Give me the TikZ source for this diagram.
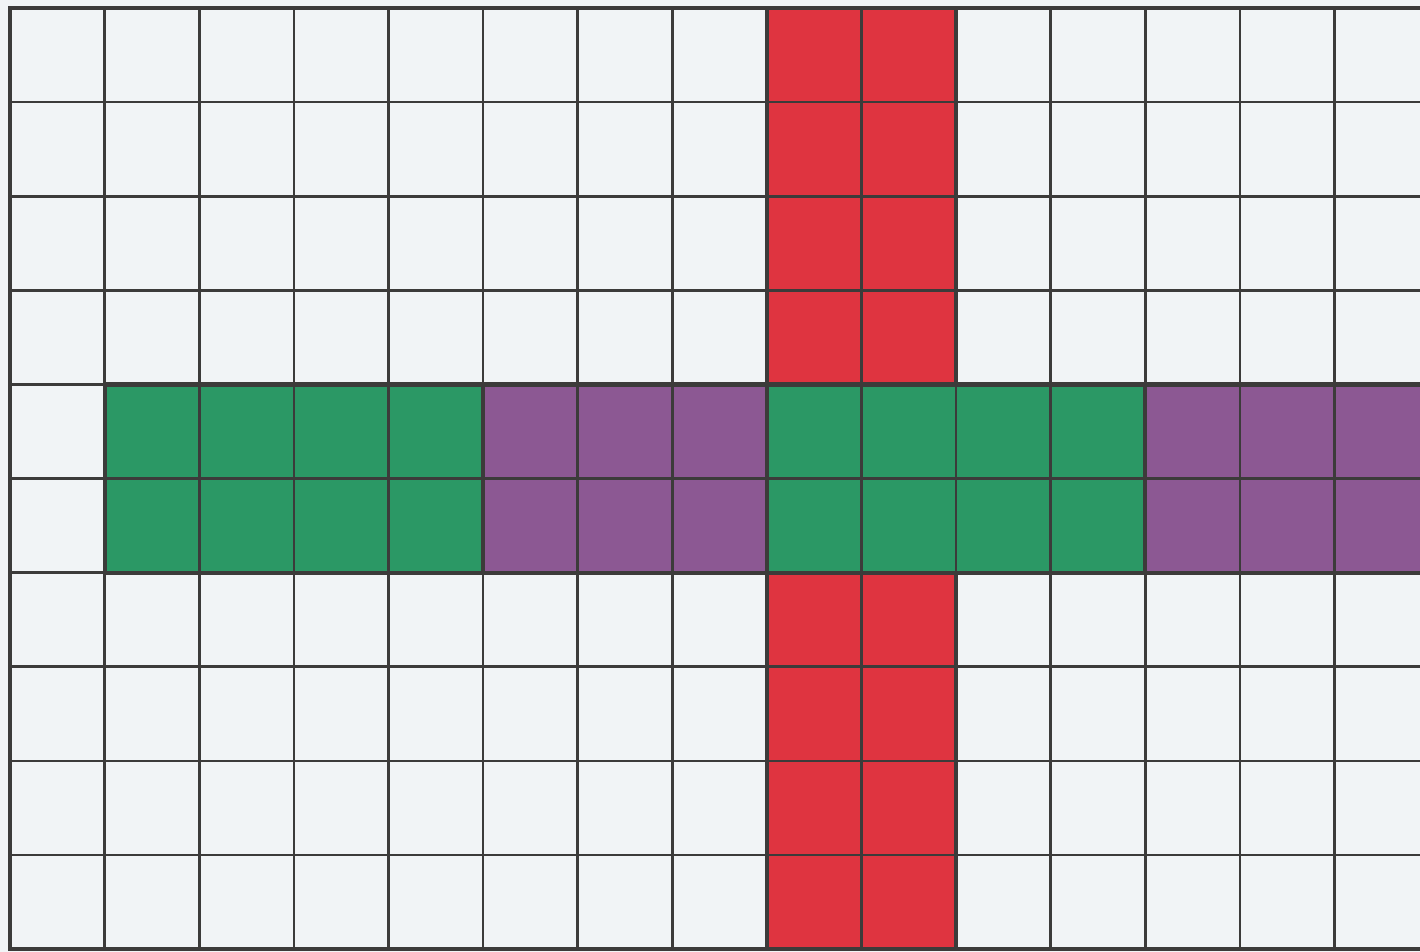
\documentclass[tikz,border=0pt]{standalone}
\usepackage{xcolor}
\definecolor{paper}{HTML}{F1F4F6}
\definecolor{gridline}{HTML}{3C3B3A}
\definecolor{redcell}{HTML}{DF3440}
\definecolor{greencell}{HTML}{2B9865}
\definecolor{purplecell}{HTML}{8C5893}
\tikzset{
  gridrule/.style={draw=gridline,line width=2.6pt},
  blockrule/.style={draw=gridline,line width=4.2pt},
  redblock/.style={fill=redcell},
  greenblock/.style={fill=greencell},
  purpleblock/.style={fill=purplecell}
}
\newcommand{\cw}{94.6}
\newcommand{\ch}{94.1}

\begin{document}
\begin{tikzpicture}[x=1pt,y=-1pt]
  \useasboundingbox (0,0) rectangle (1420,952);
  \fill[paper] (0,0) rectangle (1420,952);
  \begin{scope}
    \clip (0,0) rectangle (1420,952);
    % coloured blocks
    \coordinate (redtopA) at ({10+8*\cw},8);
    \coordinate (redtopB) at ({10+10*\cw},{8+4*\ch});
    \coordinate (redbotA) at ({10+8*\cw},{8+6*\ch});
    \coordinate (redbotB) at ({10+10*\cw},{8+10*\ch});
    \coordinate (greenaA) at ({10+1*\cw},{8+4*\ch});
    \coordinate (greenaB) at ({10+5*\cw},{8+6*\ch});
    \coordinate (purpleaA) at ({10+5*\cw},{8+4*\ch});
    \coordinate (purpleaB) at ({10+8*\cw},{8+6*\ch});
    \coordinate (greenbA) at ({10+8*\cw},{8+4*\ch});
    \coordinate (greenbB) at ({10+12*\cw},{8+6*\ch});
    \coordinate (purplebA) at ({10+12*\cw},{8+4*\ch});
    \coordinate (purplebB) at ({10+15*\cw},{8+6*\ch});
    \fill[redblock] (redtopA) rectangle (redtopB);
    \fill[redblock] (redbotA) rectangle (redbotB);
    \fill[greenblock] (greenaA) rectangle (greenaB);
    \fill[purpleblock] (purpleaA) rectangle (purpleaB);
    \fill[greenblock] (greenbA) rectangle (greenbB);
    \fill[purpleblock] (purplebA) rectangle (purplebB);
    % grid
    \foreach \i in {0,...,15}
      \draw[gridrule] ({10+\i*\cw},8) -- ({10+\i*\cw},{8+10*\ch});
    \foreach \j in {0,...,10}
      \draw[gridrule] (10,{8+\j*\ch}) -- ({10+15*\cw},{8+\j*\ch});
    % block borders
    \foreach \a/\b in {redtopA/redtopB,redbotA/redbotB,greenaA/greenaB,
        purpleaA/purpleaB,greenbA/greenbB,purplebA/purplebB}
      \draw[blockrule] (\a) rectangle (\b);
    \draw[blockrule] (10,8) rectangle ({10+15*\cw},{8+10*\ch});
  \end{scope}
\end{tikzpicture}
\end{document}
